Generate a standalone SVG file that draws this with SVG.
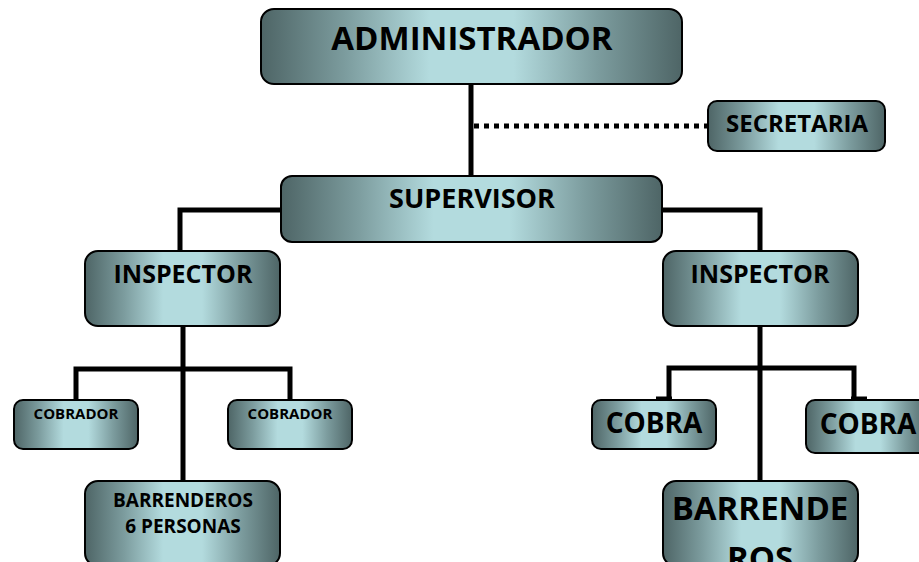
<svg xmlns="http://www.w3.org/2000/svg" width="919" height="562" viewBox="0 0 919 562">
<defs>
<linearGradient id="g" x1="0" y1="0" x2="1" y2="0">
<stop offset="0" stop-color="#4e6566"/>
<stop offset="0.2" stop-color="#7c9c9e"/>
<stop offset="0.4" stop-color="#b3dbde"/>
<stop offset="0.6" stop-color="#b3dbde"/>
<stop offset="0.8" stop-color="#7c9c9e"/>
<stop offset="1" stop-color="#4e6566"/>
</linearGradient>
<style>
.box{fill:url(#g);stroke:#000;stroke-width:2}
.t{font-family:"Open Sans","DejaVu Sans",sans-serif;font-weight:bold;fill:#000;text-anchor:middle}
.c{stroke:#000;stroke-width:5;fill:none}
.d{stroke:#000;stroke-width:5;fill:none;stroke-dasharray:5 5}
</style>
</defs>
<rect width="919" height="562" fill="#fff"/>
<g id="connectors">
<line class="c" x1="471" y1="84" x2="471" y2="177"/>
<line class="d" x1="474" y1="126" x2="708" y2="126"/>
<polyline class="c" points="281,210 180,210 180,252"/>
<polyline class="c" points="662,210 760,210 760,252"/>
<line class="c" x1="183" y1="326" x2="183" y2="481"/>
<polyline class="c" points="76,400 76,369 290,369 290,400"/>
<line class="c" x1="760" y1="326" x2="760" y2="481"/>
<polyline class="c" points="669,400 669,368 854,368 854,400"/>
<line stroke="#000" stroke-width="3" x1="656" y1="398" x2="672" y2="398"/>
<line stroke="#000" stroke-width="3" x1="851" y1="398" x2="867" y2="398"/>
</g>
<g id="administrador">
<rect class="box" x="261" y="9" width="421" height="75" rx="13"/>
<text class="t" x="472" y="50" font-size="33">ADMINISTRADOR</text>
</g>
<g id="secretaria">
<rect class="box" x="708" y="101" width="177" height="50" rx="9"/>
<text class="t" x="797" y="132" font-size="24">SECRETARIA</text>
</g>
<g id="supervisor">
<rect class="box" x="281" y="176" width="381" height="66" rx="11"/>
<text class="t" x="472" y="208" font-size="27">SUPERVISOR</text>
</g>
<g id="inspector-left">
<rect class="box" x="85" y="251" width="195" height="75" rx="13"/>
<text class="t" x="183" y="283" font-size="25">INSPECTOR</text>
</g>
<g id="inspector-right">
<rect class="box" x="663" y="251" width="195" height="75" rx="13"/>
<text class="t" x="760" y="283" font-size="25">INSPECTOR</text>
</g>
<g id="cobrador-1">
<rect class="box" x="14" y="400" width="124" height="49" rx="9"/>
<text class="t" x="76" y="419" font-size="15">COBRADOR</text>
</g>
<g id="cobrador-2">
<rect class="box" x="228" y="400" width="124" height="49" rx="9"/>
<text class="t" x="290" y="419" font-size="15">COBRADOR</text>
</g>
<g id="barrenderos-left">
<rect class="box" x="85" y="481" width="195" height="85" rx="13"/>
<text class="t" x="183" y="507" font-size="19">BARRENDEROS</text>
<text class="t" x="183" y="533" font-size="19">6 PERSONAS</text>
</g>
<g id="cobra-1">
<rect class="box" x="592" y="400" width="124" height="49" rx="9"/>
<text class="t" x="654" y="433" font-size="28">COBRA</text>
</g>
<g id="cobra-2">
<rect class="box" x="806" y="400" width="124" height="53" rx="9"/>
<text class="t" x="868" y="434" font-size="28">COBRA</text>
</g>
<g id="barrenderos-right">
<rect class="box" x="663" y="481" width="195" height="85" rx="13"/>
<text class="t" x="760" y="520" font-size="33">BARRENDE</text>
<text class="t" x="760" y="570" font-size="33">ROS</text>
</g>
</svg>
